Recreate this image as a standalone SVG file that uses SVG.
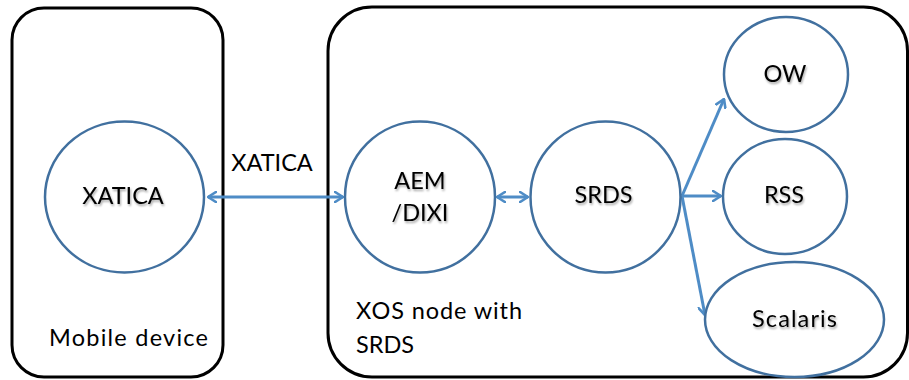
<svg xmlns="http://www.w3.org/2000/svg" width="909" height="380" viewBox="0 0 909 380">
<defs>
<style>
.box{fill:none;stroke:#000;stroke-width:3}
.node{fill:#fff;stroke:#41709F;stroke-width:2.5}
.lbl{font-family:Lato,"Liberation Sans",sans-serif;font-size:23.5px;fill:#000}
.nl{text-anchor:middle;filter:url(#sh)}
.con{fill:none;stroke:#4E8CC6;stroke-width:3}
</style>
<marker id="ah" viewBox="0 0 10 12" refX="9" refY="6" markerWidth="10" markerHeight="12" markerUnits="userSpaceOnUse" orient="auto-start-reverse">
<path d="M1,1 L9,6 L1,11" fill="none" stroke="#4E8CC6" stroke-width="2.6" stroke-linecap="round" stroke-linejoin="round"/>
</marker>
<filter id="sh" x="-10%" y="-20%" width="130%" height="150%">
<feGaussianBlur in="SourceAlpha" stdDeviation="0.8"/>
<feOffset dx="1.2" dy="1.5" result="b"/>
<feComponentTransfer><feFuncA type="linear" slope="0.35"/></feComponentTransfer>
<feMerge><feMergeNode/><feMergeNode in="SourceGraphic"/></feMerge>
</filter>
</defs>
<rect width="909" height="380" fill="#fff"/>
<g id="mobile-device">
<rect class="box" x="12" y="8" width="211" height="369" rx="32" ry="32"/>
<text class="lbl" x="49" y="346" textLength="159" lengthAdjust="spacing">Mobile device</text>
</g>
<g id="xos-node">
<rect class="box" x="328" y="7" width="579.5" height="370" rx="44" ry="44"/>
<text class="lbl" x="356" y="319" textLength="166" lengthAdjust="spacing">XOS node with</text>
<text class="lbl" x="356" y="353">SRDS</text>
</g>
<g id="connectors">
<line class="con" x1="208" y1="197" x2="343" y2="197" marker-start="url(#ah)" marker-end="url(#ah)"/>
<text class="lbl" x="272" y="171" text-anchor="middle">XATICA</text>
<line class="con" x1="497" y1="197" x2="528" y2="197" marker-start="url(#ah)" marker-end="url(#ah)"/>
<line class="con" x1="682" y1="196" x2="724" y2="99" marker-end="url(#ah)"/>
<line class="con" x1="682" y1="196" x2="721" y2="196" marker-end="url(#ah)"/>
<line class="con" x1="682" y1="196" x2="705" y2="315" marker-end="url(#ah)"/>
</g>
<g id="xatica">
<ellipse class="node" cx="124.5" cy="197" rx="79.5" ry="75.5"/>
<text class="lbl nl" x="123" y="204">XATICA</text>
</g>
<g id="aem-dixi">
<ellipse class="node" cx="420" cy="197" rx="75" ry="75.5"/>
<text class="lbl nl" x="420" y="189">AEM</text>
<text class="lbl nl" x="420" y="221">/DIXI</text>
</g>
<g id="srds">
<ellipse class="node" cx="605.5" cy="197" rx="75" ry="75.5"/>
<text class="lbl nl" x="603.5" y="203">SRDS</text>
</g>
<g id="ow">
<ellipse class="node" cx="786" cy="74.5" rx="62" ry="57.5"/>
<text class="lbl nl" x="785" y="82">OW</text>
</g>
<g id="rss">
<ellipse class="node" cx="785" cy="196.5" rx="62" ry="57.5"/>
<text class="lbl nl" x="784" y="203">RSS</text>
</g>
<g id="scalaris">
<ellipse class="node" cx="794.5" cy="319.5" rx="89.5" ry="57.5"/>
<text class="lbl nl" x="794.5" y="327" textLength="85" lengthAdjust="spacing">Scalaris</text>
</g>
</svg>
